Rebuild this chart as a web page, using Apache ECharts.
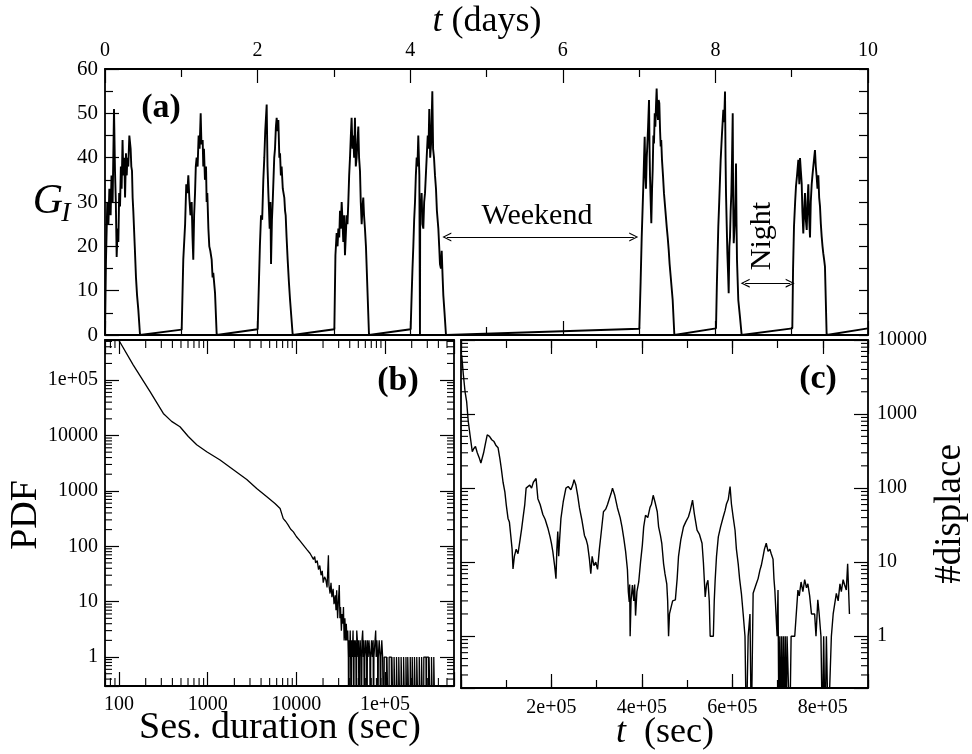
<!DOCTYPE html>
<html>
<head>
<meta charset="utf-8">
<script src="https://cdn.jsdelivr.net/npm/echarts@6/dist/echarts.min.js"></script>
<style>
html, body { margin: 0; padding: 0; background: #fff; }
#chart { width: 972px; height: 754px; }
</style>
</head>
<body>
<div id="chart"></div>
<script>
// (a) G_I against time in days
const activeUsers = [
  [0,0],[0.013,17],[0.03,30],[0.045,25],[0.057,33],[0.074,27],[0.085,36],[0.1,30],[0.118,51],[0.131,37],[0.142,30],[0.153,17.6],[0.165,24],[0.175,21],[0.186,32],[0.197,29],[0.208,38],[0.218,33],[0.23,44],[0.24,36],[0.253,40],[0.263,31],[0.275,41],[0.285,36],[0.293,40],[0.305,38],[0.319,45],[0.336,42],[0.345,38],[0.354,37],[0.362,31],[0.371,28],[0.39,20],[0.406,13],[0.42,9],[0.437,5.6],[0.459,0],
  [1.005,1.2],[1.026,17],[1.05,25],[1.065,34],[1.079,32],[1.092,36],[1.105,31],[1.12,27],[1.136,30],[1.147,22],[1.157,17],[1.168,27],[1.18,32],[1.19,38],[1.201,40],[1.214,38],[1.227,45],[1.24,42],[1.254,50],[1.264,43],[1.28,44],[1.288,38],[1.297,42],[1.31,35],[1.324,38],[1.332,30],[1.341,32],[1.355,24],[1.367,20],[1.38,19],[1.398,17],[1.41,13],[1.419,14],[1.442,9.5],[1.464,0],
  [2.001,1.3],[2.03,20],[2.045,27],[2.06,26],[2.075,35],[2.088,40],[2.1,46],[2.119,52],[2.13,38],[2.141,32],[2.15,28],[2.158,24],[2.168,30],[2.176,16],[2.188,26],[2.198,30],[2.21,36],[2.218,40],[2.228,42],[2.24,47],[2.25,49],[2.262,46],[2.272,48.5],[2.285,40],[2.294,41],[2.305,36],[2.315,38],[2.33,33],[2.35,31],[2.36,28],[2.368,27],[2.38,22],[2.394,17],[2.41,12],[2.425,8],[2.46,0],
  [3.006,1.3],[3.02,18],[3.036,23],[3.048,20],[3.058,24],[3.07,22],[3.08,28],[3.09,24],[3.102,30],[3.112,26],[3.123,21],[3.135,27],[3.145,18],[3.155,22],[3.167,27],[3.178,25],[3.189,30],[3.2,36],[3.211,40],[3.222,45],[3.232,49],[3.243,42],[3.254,45],[3.265,40],[3.276,49],[3.287,38],[3.298,40],[3.31,44],[3.32,47],[3.33,40],[3.342,37],[3.352,30],[3.364,25],[3.375,29],[3.385,31],[3.395,27],[3.407,24],[3.42,20],[3.43,20],[3.46,0],
  [4.006,1.3],[4.019,9],[4.03,15],[4.041,20],[4.052,26],[4.063,30],[4.074,36],[4.085,40],[4.095,38],[4.106,45],[4.12,36],[4.128,0],[4.131,30],[4.14,28],[4.15,32],[4.16,25],[4.172,24],[4.183,30],[4.194,32],[4.205,36],[4.216,40],[4.23,45],[4.24,42],[4.25,51],[4.262,40],[4.273,43],[4.29,55],[4.3,42],[4.312,40],[4.325,36],[4.338,33],[4.35,28],[4.369,24],[4.38,20],[4.39,16],[4.403,15],[4.413,19],[4.425,13],[4.434,9],[4.45,5],[4.469,0],
  [7.003,1.4],[7.02,12],[7.034,22],[7.045,28],[7.055,33.5],[7.065,40],[7.073,44.7],[7.082,36],[7.09,33],[7.1,40],[7.107,42.5],[7.118,47],[7.13,53],[7.137,42],[7.143,35.7],[7.152,30],[7.16,25.2],[7.17,33],[7.178,37.2],[7.187,45],[7.195,43.2],[7.205,50],[7.213,47],[7.222,52],[7.23,55.6],[7.24,50],[7.248,48.5],[7.256,53],[7.265,52.3],[7.275,46],[7.283,42.5],[7.29,44],[7.3,39.5],[7.313,36],[7.326,32],[7.345,28],[7.362,24.4],[7.375,22],[7.388,19.2],[7.4,16],[7.414,13.2],[7.44,7.9],[7.462,0],
  [8.008,1.5],[8.02,12],[8.038,24.4],[8.05,30],[8.069,39.5],[8.085,45],[8.104,50.8],[8.115,48],[8.126,54.9],[8.133,40],[8.139,32],[8.148,25],[8.157,18.4],[8.166,14],[8.174,9.4],[8.183,20],[8.191,22],[8.2,28],[8.209,32],[8.218,40],[8.227,50],[8.233,30],[8.24,20.7],[8.25,24],[8.257,26],[8.264,32],[8.27,38.7],[8.277,25],[8.283,16.9],[8.3,7.9],[8.322,4.1],[8.344,0],
  [9.008,1.5],[9.018,15],[9.03,24.4],[9.045,30],[9.056,33.5],[9.07,36],[9.087,39.5],[9.1,34],[9.109,39.9],[9.12,37],[9.131,34.2],[9.14,28],[9.152,22.9],[9.163,28],[9.174,32],[9.185,26],[9.197,23.7],[9.207,30],[9.218,34],[9.228,27],[9.24,22],[9.25,30],[9.262,34],[9.272,36],[9.283,38],[9.295,40],[9.305,41.7],[9.316,38],[9.327,35.7],[9.338,33],[9.349,36],[9.36,31],[9.371,29],[9.382,25],[9.393,22.2],[9.404,20],[9.414,18.4],[9.425,17],[9.436,15.4],[9.458,0],
  [10,1.5]
];

// (b) PDF of session duration (sec); 0.01 stands for empty bins below the axis
const sessionPdf = [
  [100,5.2e5],[145,1.87e5],[224,6.2e4],[316,2.5e4],[392,1.8e4],[487,1.44e4],[605,9600],[752,6800],[975,5100],[1380,3600],[1950,2400],[2760,1600],[3570,1100],[4650,780],[5740,590],[6560,480],
  [7120,316],[7400,340],[7600,280],[7900,300],[8100,240],[8400,260],[8600,205],[8900,215],[9260,182],[9600,190],[10000,150],[10500,160],[11000,125],[11500,135],[12000,105],[12500,112],[13100,88],[13700,95],[14300,74],[15000,80],[15600,58],[16100,65],[16500,50],[17200,55],[17800,38],[18400,45],[19000,30],[19600,36],[20100,22],[20800,28],[21500,25],[22200,18],[23000,69],[23300,20],[24000,14],[24600,22],[25200,12],[26000,17],[26600,9],[27500,13],[28000,7],[28500,16],[29200,5],[29700,9],[30500,20],[31000,5],[31500,8],[32200,3],[32800,6],[33400,4],[34000,8],[34600,2],[35300,5],[36000,2],[36600,4],[37300,2],
  [38000,3],[38600,1],[39000,0.01],[39400,2],[40000,1],[40500,3],[41000,1],[41500,0.01],[42000,2],[42800,1],[43600,3],[44000,1],[44400,0.01],[44800,2],[45500,1],[46200,2],[47000,1],[47500,0.01],[48000,3],[48800,2],[49700,1],[50300,2],[51000,0.01],[51600,1],[52500,2],[53500,1],[54200,0.01],[55000,2],[56000,3],[57000,1],[57800,2],[58500,0.01],[59200,1],[60500,2],[62000,1],[62600,0.01],[63300,2],[64500,1],[66000,2],[67500,1],[68200,0.01],[69000,1],[70500,2],[72000,1],[73500,2],[74200,0.01],[75000,1],[77000,1],[78500,3],[79500,1],[81000,2],[82500,1],[83300,0.01],[84000,1],[86000,2],[88000,1],[89000,0.01],[90000,1],[92000,2],[94000,1],[96000,1],[97000,0.01],[98000,1],
  [104000,1],[104600,0.01],[105200,1],[110000,1],[110700,0.01],[111400,1],[118000,1],[118800,0.01],[119600,1],[125000,1],[125800,0.01],[126600,1],[133000,1],[133900,0.01],[134800,1],[141000,1],[142000,0.01],[143000,1],[150000,1],[151000,0.01],[152000,1],[160000,1],[161000,0.01],[162000,1],[170000,1],[171200,0.01],[172400,1],[178000,1],[179300,0.01],[180600,1],[190000,1],[191300,0.01],[192600,1],[200000,1],[201400,0.01],[202800,1],[212000,1],[213500,0.01],[215000,1],[225000,1],[226600,0.01],[228200,1],[240000,1],[241700,0.01],[243400,1],[255000,1],[256800,0.01],[258600,1],[270000,1],[272000,0.01],[274000,1],[290000,1],[292000,0.01],[294000,1],[310000,1],[312000,0.01],[314000,1],[330000,1],[332300,0.01],[334600,1],[350000,1],[352500,0.01],[355000,1],[370000,1],[372600,0.01]
];

// (c) #displace against t (sec); 0.05 stands for zero counts below the axis
const displacements = [
  [1500,6300],[5000,3500],[9000,2000],[12500,1470],[16000,800],[20000,520],[25000,310],[28000,340],[32000,365],[36000,300],[40000,260],[44000,218],[50000,300],[54000,400],[58000,525],[63000,500],[68000,450],[73000,425],[77000,380],[82000,350],[86000,250],[89000,186],[93000,120],[97000,89],[100000,60],[104000,39],[107000,35],[110000,23],[113000,15],[115000,8.1],[118000,12],[122000,15],[126000,13],[130000,19],[134000,28],[137000,39],[141000,60],[144000,100],[148000,95],[152000,110],[156000,100],[160000,120],[163000,115],[166000,135],[170000,72],[175000,60],[181000,44],[186000,38],[192000,29],[197000,22],[200000,18],[203000,14],[207000,9],[210000,6],[212000,15],[214000,26],[216000,12],[218000,20],[221000,39],[226000,65],[232000,100],[237000,105],[243000,95],[247000,110],[250000,130],[254000,110],[258000,80],[262000,54],[267000,38],[273000,23],[277000,20],[280000,17],[284000,11],[287000,7],[290000,12],[294000,9],[298000,10],[302000,8],[306000,15],[310000,25],[315000,48],[320000,52],[324000,60],[328000,72],[332000,85],[335000,100],[340000,80],[346000,54],[352000,40],[356000,30],[360000,21],[364000,14],[368000,8],[370000,4],[372000,2.9],[373000,5],[374000,1],[376000,3],[379000,4.9],[382000,3],[384000,5],[386000,1.9],[389000,4],[393000,5.4],[397000,10],[401000,17],[404000,30],[408000,43],[413000,40],[418000,55],[421000,60],[425000,80],[429000,65],[434000,48],[437000,30],[441000,23],[444000,18],[448000,9.5],[451000,7],[455000,5.1],[457000,3],[459000,1],[461000,2],[463000,2],[468000,3],[474000,3.1],[478000,6],[481000,12],[486000,20],[492000,30],[497000,35],[503000,41],[507000,50],[512000,69],[516000,45],[522000,27],[527000,24],[533000,18],[536000,10],[540000,3.4],[543000,5],[546000,5.7],[549000,3],[551000,1],[555000,1],[558000,1],[560000,3],[562000,5.7],[565000,12],[569000,22],[574000,30],[580000,41],[584000,50],[587000,61],[591000,70],[595000,105],[598000,61],[602000,40],[606000,27],[609000,15],[613000,9.5],[616000,6],[620000,3.8],[624000,2],[628000,1],[631000,0.05],[635000,1],[639000,2],[642000,0.05],[646000,3.8],[650000,4],[653000,5.1],[657000,6],[661000,7.8],[664000,9],[668000,12],[671000,15],[675000,18],[679000,14],[683000,15],[686000,13],[690000,11],[692000,6],[694000,4.2],[697000,4.2],[699000,1],[701000,4.2],[703000,0.05],[705000,1],[707000,0.05],[709000,1],[711000,0.05],[713000,1],[715000,0.05],[717000,1],[719000,0.05],[721000,1],[724000,1],[727000,0.05],[730000,1],[734000,1],[738000,1],[741000,1],[745000,4.2],[748000,3.5],[752000,5.4],[756000,4],[760000,5.8],[764000,4.5],[767000,5.1],[771000,3.5],[775000,2],[779000,2],[782000,2],[785000,1],[789000,3.1],[792000,2],[796000,1],[799000,0.05],[802000,1],[805000,0.05],[808000,1],[812000,0.05],[816000,0.05],[819000,1],[823000,2],[826000,2],[830000,3.8],[834000,3],[838000,5.1],[841000,4],[845000,5.8],[848000,5],[852000,4.2],[855000,9.5],[859000,2]
];

// tick labels (index = power of ten)
const decadeLabels = ['1', '10', '100', '1000', '10000', '1e+05'];
const secLabels = ['2e+05', '4e+05', '6e+05', '8e+05'];

const serif = 'Liberation Serif';
const black = '#000';
const frame = { show: true, onZero: false, lineStyle: { color: black, width: 1.8 } };
const noLine = { show: false, onZero: false };
const tick = len => ({ show: true, inside: true, length: len, lineStyle: { color: black, width: 1.2 } });
const minor = len => ({ show: true, splitNumber: 2, length: len, lineStyle: { color: black, width: 1.2 } });
const lbl = (size, margin, fmt) => ({ show: true, margin: margin, fontSize: size, fontFamily: serif, color: black, formatter: fmt });
const off = { show: false };

const PB = { xMin: 69.5, xMax: 6e5, yMin: 0.3, yMax: 5.3e5 };
const PC = { xMin: 0, xMax: 9e5, yMin: 0.2, yMax: 10000 };

function logLabel(v) {
  const l = Math.log10(v), e = Math.round(l);
  if (Math.abs(l - e) > 0.01 || e < 0 || e >= decadeLabels.length) return '';
  return decadeLabels[e];
}

// minor ticks 2..9 x 10^k inside (lo, hi)
function minorLogValues(lo, hi) {
  const out = [];
  for (let e = Math.floor(Math.log10(lo)); e <= Math.ceil(Math.log10(hi)); e++) {
    for (let m = 2; m <= 9; m++) {
      const v = m * Math.pow(10, e);
      if (v > lo * 1.001 && v < hi * 0.999) out.push(v);
    }
  }
  return out;
}

function minorTickSeries(xi, yi, dir, values, ends, len) {
  return {
    type: 'custom', xAxisIndex: xi, yAxisIndex: yi, silent: true, z: 5,
    data: values.map(v => dir === 'y' ? [ends[0], v] : [v, ends[0]]),
    renderItem: function (params, api) {
      const s = { stroke: black, lineWidth: 1.1 };
      if (dir === 'y') {
        const v = api.value(1);
        const a = api.coord([ends[0], v]), b = api.coord([ends[1], v]);
        return { type: 'group', children: [
          { type: 'line', shape: { x1: a[0], y1: a[1], x2: a[0] + len, y2: a[1] }, style: s },
          { type: 'line', shape: { x1: b[0], y1: b[1], x2: b[0] - len, y2: b[1] }, style: s }
        ] };
      }
      const v = api.value(0);
      const a = api.coord([v, ends[0]]), b = api.coord([v, ends[1]]);
      return { type: 'group', children: [
        { type: 'line', shape: { x1: a[0], y1: a[1], x2: a[0], y2: a[1] - len }, style: s },
        { type: 'line', shape: { x1: b[0], y1: b[1], x2: b[0], y2: b[1] + len }, style: s }
      ] };
    }
  };
}

const chevron = 'path://M0,10 L5,0 L10,10 L8.6,10 L5,2.6 L1.4,10 Z';

const txt = (x, y, text, size, extra) => ({
  type: 'text', x: x, y: y, silent: true, z: 20, rotation: (extra && extra.rotation) || 0,
  style: Object.assign({ text: text, fontSize: size, fontFamily: serif, fill: black, align: 'center', verticalAlign: 'middle' },
    extra && extra.style)
});

const chart = echarts.init(document.getElementById('chart'));

const option = {
  animation: false,
  backgroundColor: '#fff',
  grid: [
    { left: 105, top: 69, width: 763, height: 266, outerBoundsMode: 'none' },
    { left: 105, top: 340, width: 349, height: 346, outerBoundsMode: 'none' },
    { left: 461, top: 340, width: 407, height: 348, outerBoundsMode: 'none' }
  ],
  xAxis: [
    { gridIndex: 0, type: 'value', position: 'bottom', min: 0, max: 10, interval: 2, axisLine: frame, axisTick: tick(14), minorTick: minor(8), axisLabel: off, splitLine: off },
    { gridIndex: 0, type: 'value', position: 'top', min: 0, max: 10, interval: 2, axisLine: frame, axisTick: tick(14), minorTick: minor(8), axisLabel: lbl(20, 8), splitLine: off },
    { gridIndex: 1, type: 'log', position: 'bottom', min: PB.xMin, max: PB.xMax, axisLine: frame, axisTick: tick(14), axisLabel: lbl(20, 9, logLabel), splitLine: off },
    { gridIndex: 1, type: 'log', position: 'top', min: PB.xMin, max: PB.xMax, axisLine: frame, axisTick: tick(14), axisLabel: off, splitLine: off },
    { gridIndex: 2, type: 'value', position: 'bottom', min: 0, max: 9e5, interval: 2e5, axisLine: frame, axisTick: tick(14),
      axisLabel: lbl(20, 10, v => (v > 0 && v < 9e5) ? secLabels[Math.round(v / 2e5) - 1] : ''), splitLine: off },
    { gridIndex: 2, type: 'value', position: 'bottom', min: 0, max: 9e5, interval: 1e5, axisLine: noLine, axisTick: tick(8), axisLabel: off, splitLine: off },
    { gridIndex: 2, type: 'value', position: 'top', min: 0, max: 9e5, interval: 2e5, axisLine: frame, axisTick: tick(14), axisLabel: off, splitLine: off },
    { gridIndex: 2, type: 'value', position: 'top', min: 0, max: 9e5, interval: 1e5, axisLine: noLine, axisTick: tick(8), axisLabel: off, splitLine: off }
  ],
  yAxis: [
    { gridIndex: 0, type: 'value', position: 'left', min: 0, max: 60, interval: 10, axisLine: frame, axisTick: tick(14), minorTick: minor(8), axisLabel: lbl(21, 7), splitLine: off },
    { gridIndex: 0, type: 'value', position: 'right', min: 0, max: 60, interval: 5, axisLine: frame, axisTick: tick(9), axisLabel: off, splitLine: off },
    { gridIndex: 1, type: 'log', position: 'left', min: PB.yMin, max: PB.yMax, axisLine: frame, axisTick: tick(14), axisLabel: lbl(20, 7, logLabel), splitLine: off },
    { gridIndex: 1, type: 'log', position: 'right', min: PB.yMin, max: PB.yMax, axisLine: frame, axisTick: tick(14), axisLabel: off, splitLine: off },
    { gridIndex: 2, type: 'log', position: 'left', min: PC.yMin, max: PC.yMax, axisLine: frame, axisTick: tick(14), axisLabel: off, splitLine: off },
    { gridIndex: 2, type: 'log', position: 'right', min: PC.yMin, max: PC.yMax, axisLine: frame, axisTick: tick(14), axisLabel: lbl(20, 9, logLabel), splitLine: off }
  ],
  series: [
    {
      type: 'line', xAxisIndex: 0, yAxisIndex: 0, data: activeUsers, showSymbol: false, silent: true,
      lineStyle: { color: black, width: 1.9 },
      markLine: {
        silent: true, symbol: [chevron, chevron], symbolSize: [9, 9],
        label: { show: false }, lineStyle: { color: black, width: 1, type: 'solid' },
        data: [
          [{ coord: [4.48, 22.1] }, { coord: [6.93, 22.1] }],
          [{ coord: [8.39, 11.7] }, { coord: [8.98, 11.7] }]
        ]
      }
    },
    { type: 'line', xAxisIndex: 2, yAxisIndex: 2, data: sessionPdf, showSymbol: false, silent: true, lineStyle: { color: black, width: 1.3 } },
    { type: 'line', xAxisIndex: 4, yAxisIndex: 4, data: displacements, showSymbol: false, silent: true, lineStyle: { color: black, width: 1.4 } },
    minorTickSeries(2, 2, 'y', minorLogValues(PB.yMin, PB.yMax), [PB.xMin, PB.xMax], 7),
    minorTickSeries(2, 2, 'x', minorLogValues(PB.xMin, PB.xMax), [PB.yMin, PB.yMax], 8),
    minorTickSeries(4, 4, 'y', minorLogValues(PC.yMin, PC.yMax), [PC.xMin, PC.xMax], 7)
  ],
  graphic: [
    txt(487, 22, '{i|t} (days)', 36, { style: { rich: { i: { fontStyle: 'italic', fontSize: 36, fontFamily: serif } } } }),
    txt(48, 202, 'G', 42, { style: { fontStyle: 'italic' } }),
    txt(66, 214, 'I', 28, { style: { fontStyle: 'italic' } }),
    txt(161, 108, '(a)', 34, { style: { fontWeight: 'bold' } }),
    txt(537, 216, 'Weekend', 30),
    txt(762, 236, 'Night', 30, { rotation: Math.PI / 2 }),
    txt(26, 515, 'PDF', 38, { rotation: Math.PI / 2 }),
    txt(280, 728, 'Ses. duration (sec)', 38),
    txt(398, 381, '(b)', 34, { style: { fontWeight: 'bold' } }),
    txt(818, 379, '(c)', 34, { style: { fontWeight: 'bold' } }),
    txt(950, 514, '#displace', 37, { rotation: Math.PI / 2 }),
    txt(665, 733, '{i|t}  (sec)', 36, { style: { rich: { i: { fontStyle: 'italic', fontSize: 36, fontFamily: serif } } } })
  ]
};

chart.setOption(option);
</script>
</body>
</html>
